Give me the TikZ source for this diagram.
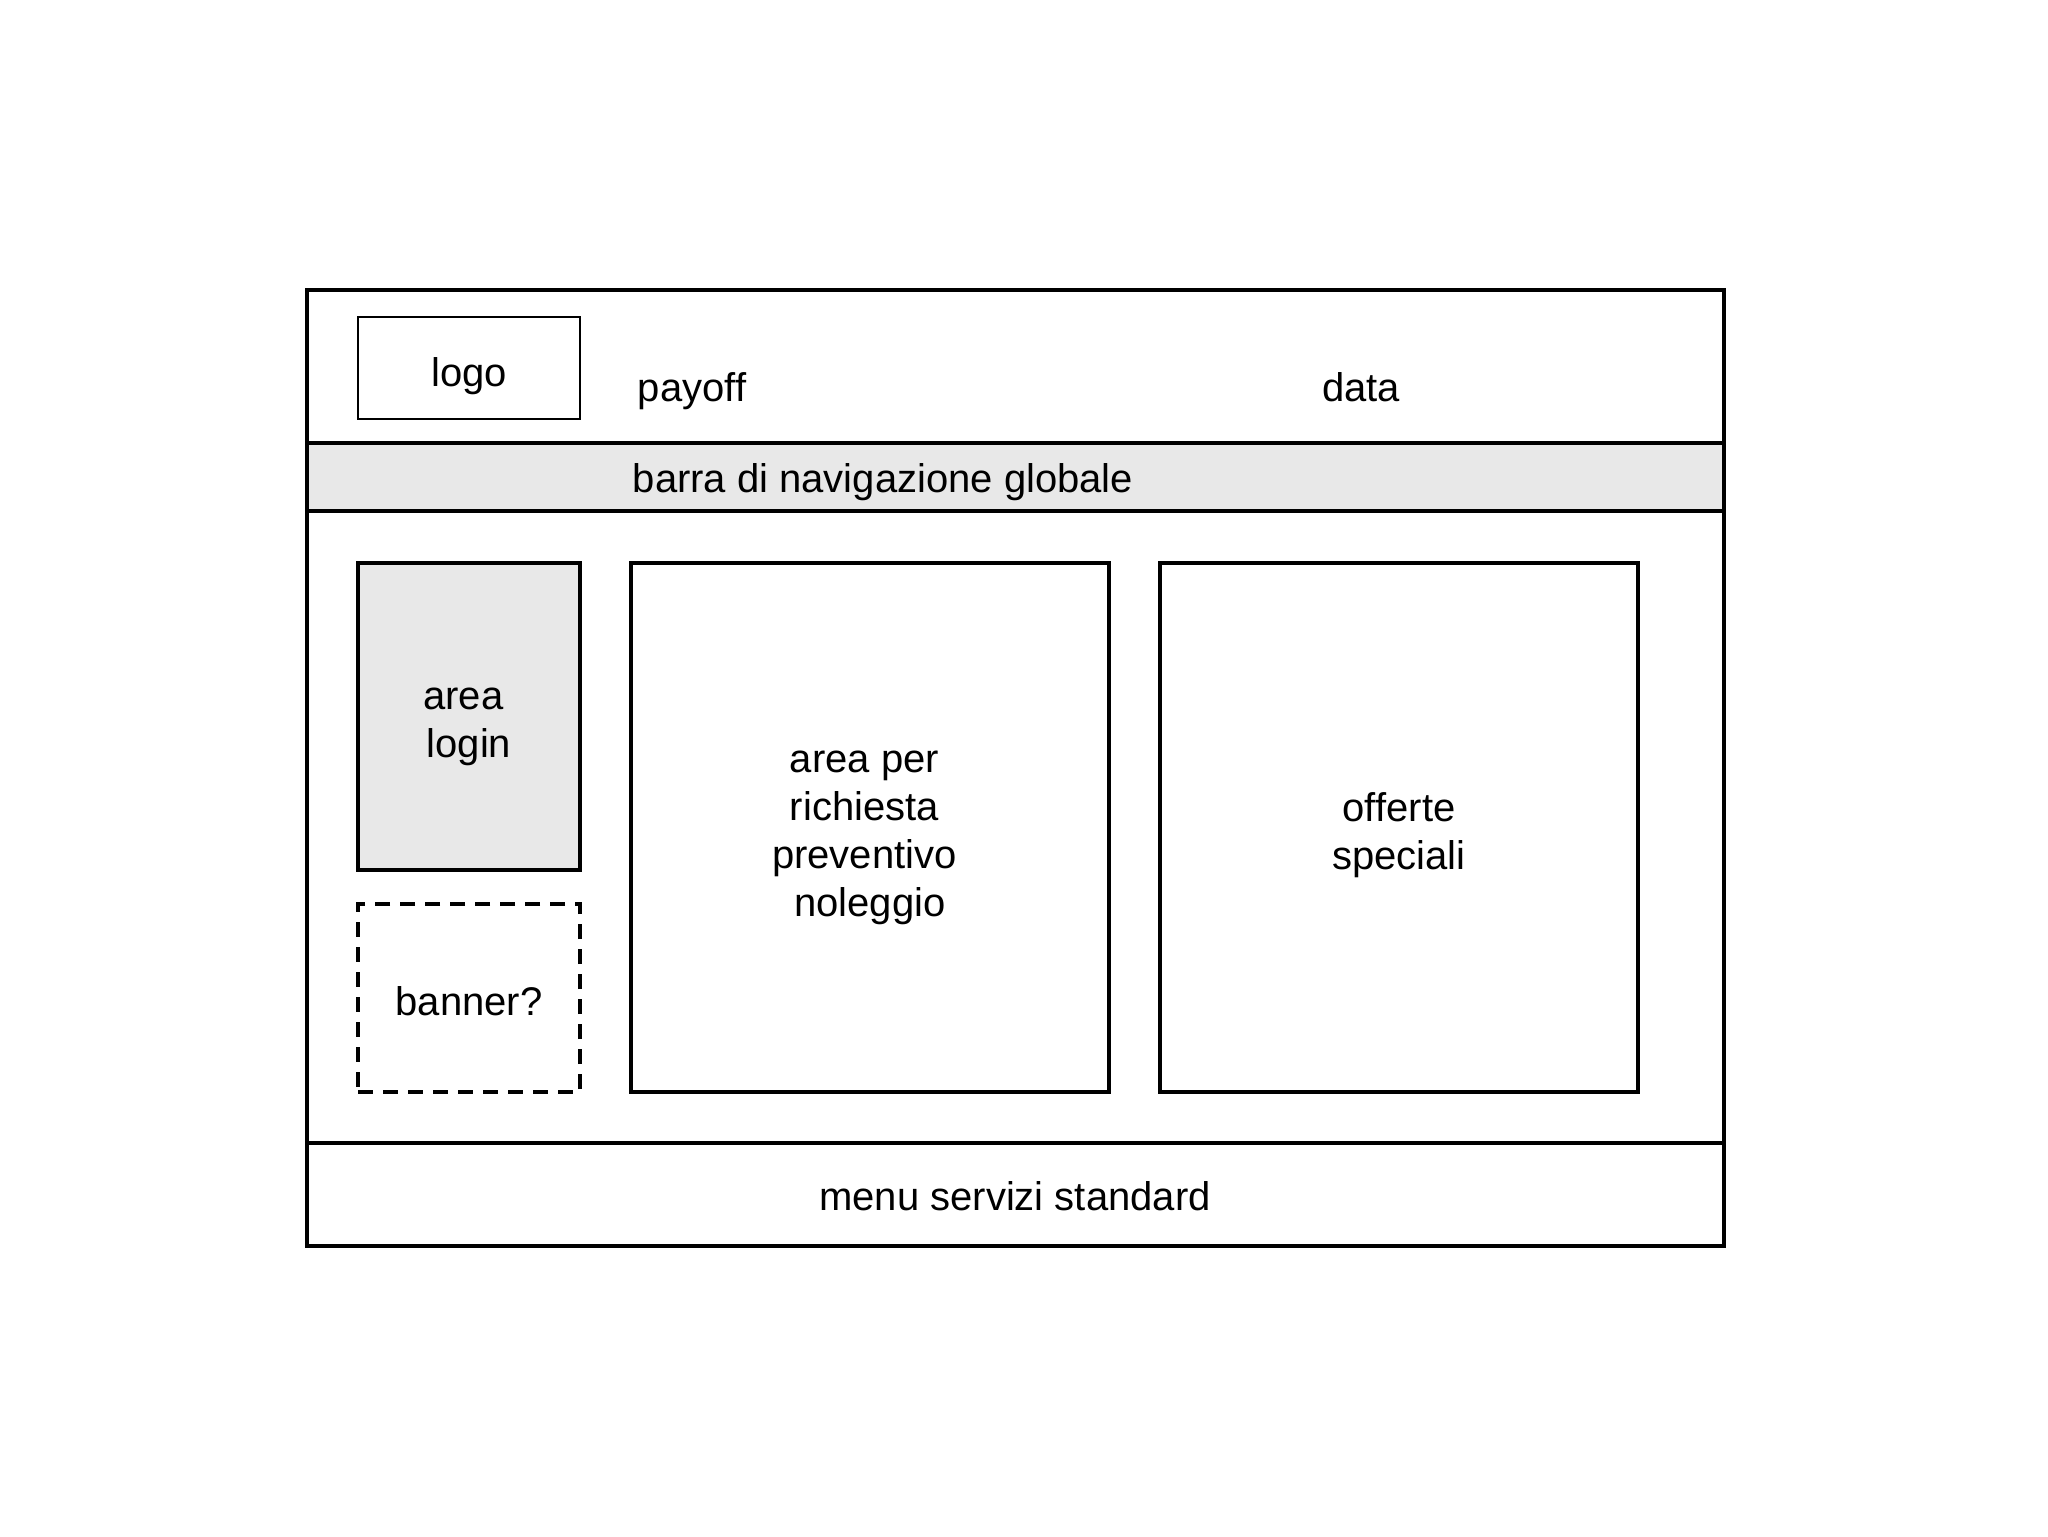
\documentclass[tikz,border=0pt]{standalone}
\usepackage{fontspec}
\setmainfont{Liberation Sans}
\definecolor{panelgrey}{HTML}{E8E8E8}
\newcommand{\tsp}{\rule{5.6pt}{0pt}}
\tikzset{
  frame/.style={line width=1.8pt, draw=black},
  box/.style={draw=black, line width=1.6pt, rectangle, inner sep=0pt},
  label/.style={inner sep=0pt, align=center, font=\fontsize{20}{24}\selectfont},
}
\begin{document}
\begin{tikzpicture}[x=0.5pt,y=-0.5pt]
\useasboundingbox (0,0) rectangle (2048,1536);
% nav bar fill
\fill[panelgrey] (307,443) rectangle (1724,511);
% outer frame and divisions
\draw[frame] (307,290) rectangle (1724,1246);
\draw[frame] (307,443) -- (1724,443);
\draw[frame] (307,511) -- (1724,511);
\draw[frame] (307,1143) -- (1724,1143);
% header
\node[box, line width=1.1pt, minimum width=111pt, minimum height=51pt] (logo) at (469,368) {};
\node[label] (logotext) at (469,376) {logo};
\node[label] (payoff) at (692,391) {payoff};
\node[label] (data) at (1361,387) {data};
% nav
\node[label] (nav) at (883,482) {barra di navigazione globale};
% content
\node[box, fill=panelgrey, minimum width=111pt, minimum height=153.5pt] (login) at (469,716.5) {};
\node[label] (logintext) at (469,727) {area\tsp\\login};
\node[box, dash pattern=on 7.5pt off 5pt, minimum width=111pt, minimum height=94pt] (banner) at (469,998) {};
\node[label] (bannertext) at (469,1001) {banner?};
\node[box, minimum width=239pt, minimum height=264.5pt] (preventivo) at (870,827.5) {};
\node[label] (preventivotext) at (870,838) {area per\tsp\\richiesta\tsp\\preventivo\tsp\\noleggio};
\node[box, minimum width=239pt, minimum height=264.5pt] (offerte) at (1399,827.5) {};
\node[label] (offertetext) at (1399,835) {offerte\\speciali};
% footer
\node[label] (footer) at (1015,1196) {menu servizi standard};
\end{tikzpicture}
\end{document}
